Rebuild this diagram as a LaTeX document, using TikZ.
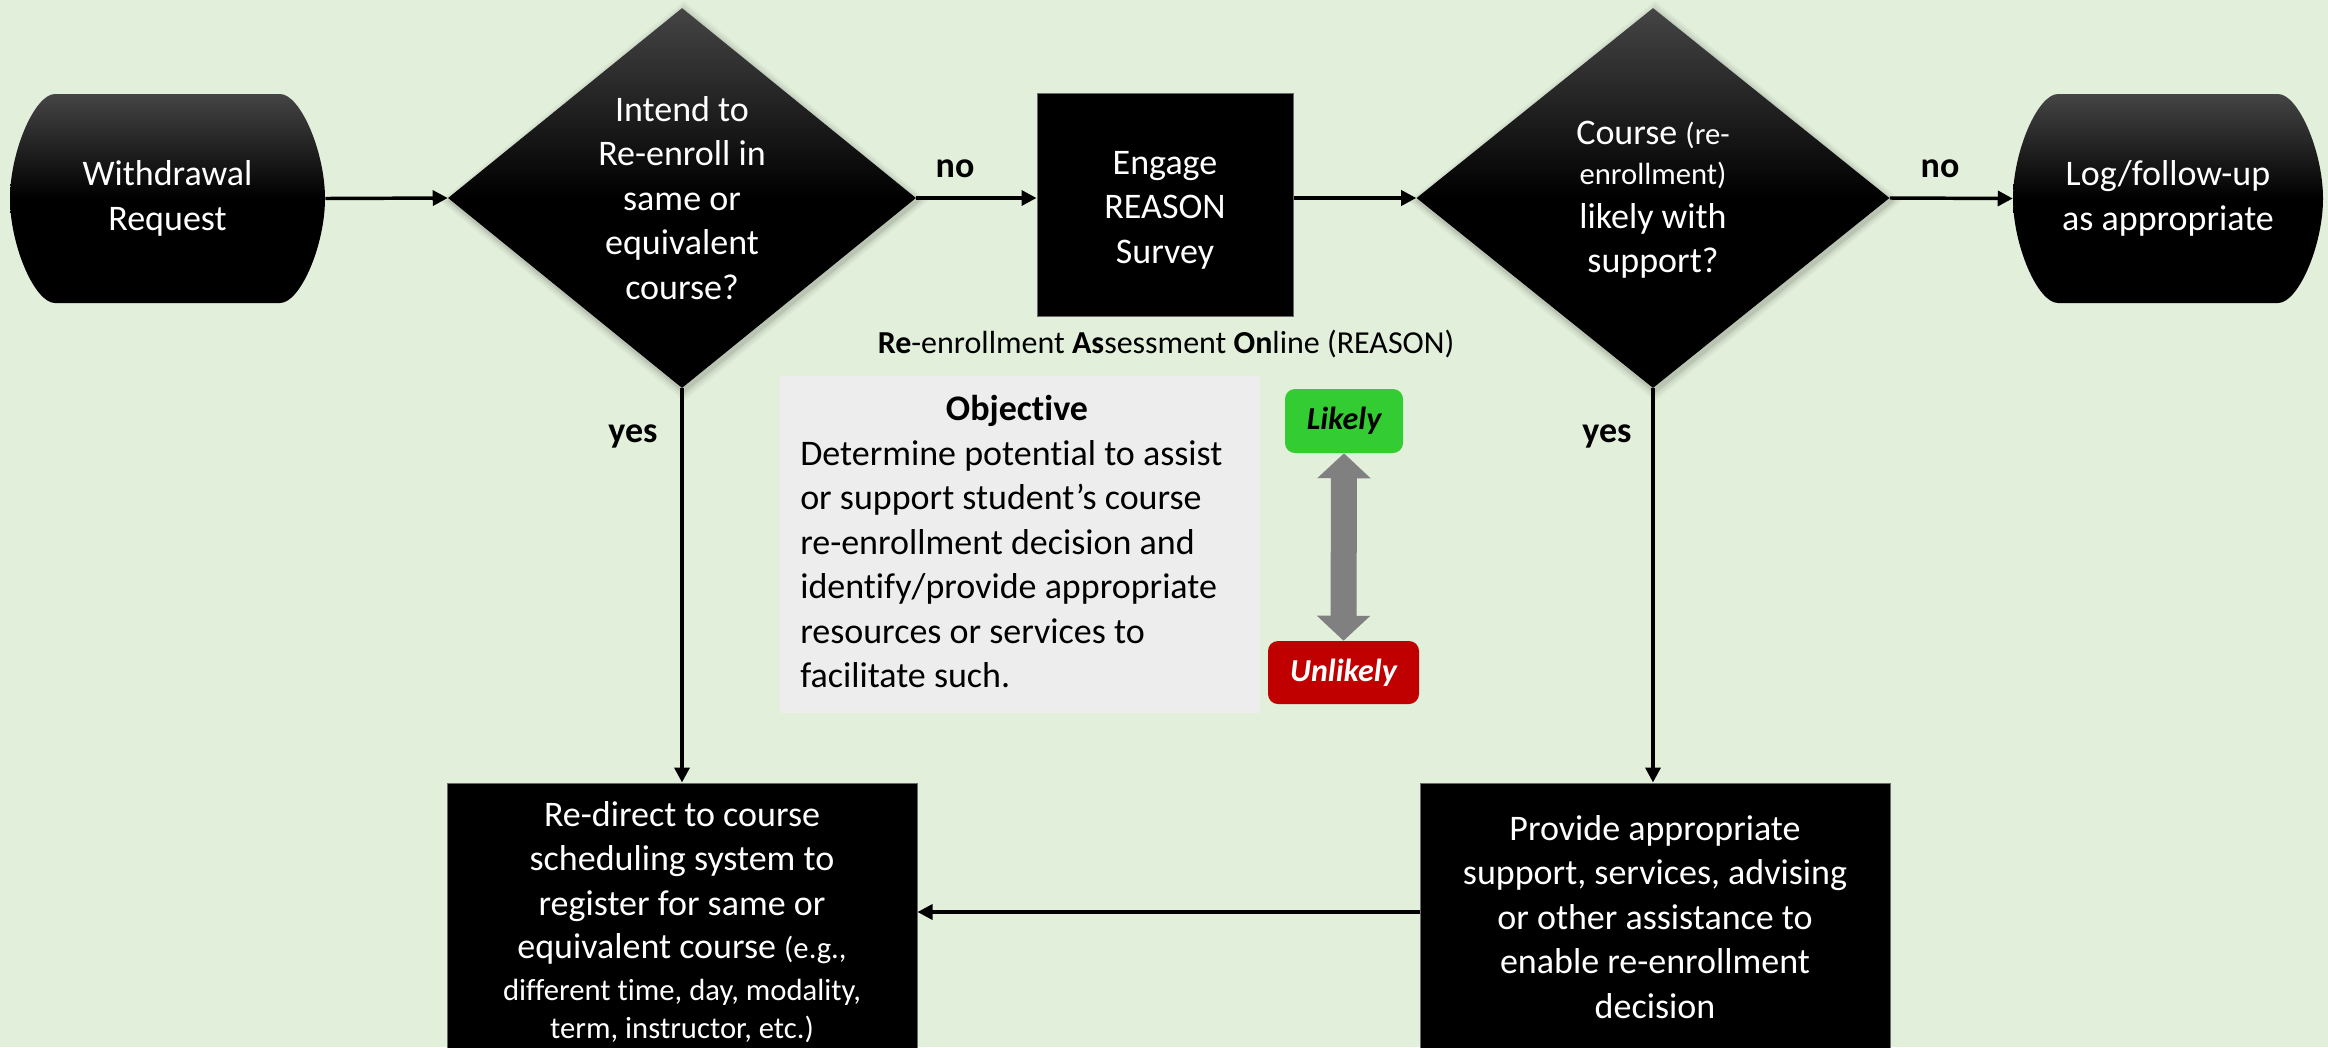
\documentclass[tikz,border=0pt]{standalone}
\usepackage{fontspec}
\setmainfont{Carlito}[Ligatures=NoCommon]
\usetikzlibrary{shapes.geometric,arrows.meta,calc}

\definecolor{bg}{HTML}{E2EFDA}
\definecolor{topgray}{HTML}{454545}
\definecolor{boxedge}{HTML}{6A6A6A}
\definecolor{objgray}{HTML}{EDEDED}
\definecolor{likegreen}{HTML}{33CC33}
\definecolor{unlikered}{HTML}{C00000}
\definecolor{midgray}{HTML}{808080}

\newcommand\mainsize{\fontsize{27}{33.4}\selectfont}
\newcommand\subsize{\fontsize{23}{28}\selectfont}
\newcommand\capsize{\fontsize{24}{29}\selectfont}

% terminator outline between left x #1 and right x #2 (top 94, bottom 303)
\newcommand\termoutline[2]{%
  \shade[darkshade] ({#1+45},94) -- ({#2-45},94)
    .. controls ({#2-24.75},94) and (#2,151.5) .. (#2,198.5)
    .. controls (#2,245.5) and ({#2-24.75},303) .. ({#2-45},303)
    -- ({#1+45},303)
    .. controls ({#1+24.75},303) and (#1,245.5) .. (#1,198.5)
    .. controls (#1,151.5) and ({#1+24.75},94) .. ({#1+45},94) -- cycle;}

\tikzset{
  flow/.style={line width=2.6pt, -{Triangle[length=11.25pt,width=11.25pt]}},
  darkshade/.style={top color=topgray, bottom color=black, middle color=black},
  termtext/.style={rectangle, inner sep=0pt, text=white, align=center, font=\mainsize, minimum height=156.75pt},
  decision/.style={diamond, inner sep=0pt, darkshade, minimum height=285pt},
  qtext/.style={text=white, align=center, font=\mainsize, inner sep=0pt},
  blackbox/.style={rectangle, fill=black, draw=boxedge, line width=0.75pt, inner sep=0pt},
  boxtext/.style={text=white, align=center, font=\mainsize, inner sep=0pt},
  answer/.style={font=\mainsize\bfseries, inner sep=0pt, anchor=base},
  tag/.style={rectangle, rounded corners=7.5pt, inner sep=0pt, font=\capsize\bfseries\itshape},
}

\begin{document}
\begin{tikzpicture}[x=0.75pt,y=-0.75pt]
  % page
  \fill[bg] (0,0) rectangle (2328,1047);
  \useasboundingbox (0,0) rectangle (2328,1047);
  \clip (0,0) rectangle (2328,1047);

  % terminators
  \termoutline{10}{325}
  \termoutline{2013}{2323}
  \node[termtext, minimum width=236.25pt] (wr) at (167.5,198.5) {Withdrawal\\Request};
  \node[termtext, minimum width=232.5pt] (log) at (2168,198.5) {Log/follow-up\\as appropriate};

  % soft shadows behind the decisions
  \foreach \g/\o in {10/0.03,7/0.04,4/0.05,2/0.06} {
    \fill[black,opacity=\o] (684,{8-\g+3}) -- ({916+\g+2},201) -- (684,{388+\g+3}) -- ({448-\g+2},201) -- cycle;
    \fill[black,opacity=\o] (1655,{8-\g+3}) -- ({1890+\g+2},201) -- (1655,{388+\g+3}) -- ({1416-\g+2},201) -- cycle;
  }

  % decisions
  \node[decision, minimum width=351pt] (d1) at (682,198) {};
  \node[qtext] (q1) at (682,198) {Intend to\\Re-enroll in\\same or\\equivalent\\course?};
  \node[decision, minimum width=354.75pt] (d2) at (1653,198) {};
  \node[qtext] (q2) at (1653,200) {Course {\subsize(re-}\\[-3.4pt]{\subsize enrollment)}\\[-1.1pt]likely with\\support?};

  % survey step and its caption
  \node[blackbox, minimum width=192pt, minimum height=167.25pt] (eng) at (1165,204.5) {};
  \node[boxtext] (engt) at (1165,210) {Engage\\REASON\\Survey};
  \node[font=\capsize, anchor=base, inner sep=0pt] (cap) at (1166,353)
    {\textbf{Re}-enrollment \textbf{As}sessment \textbf{On}line (REASON)};

  % objective panel
  \node[rectangle, fill=objgray, minimum width=360pt, minimum height=252.75pt, inner sep=0pt] (obj) at (1020,544.5) {};
  \node[font=\mainsize\bfseries, anchor=base, inner sep=0pt] (objt) at (1017,420) {Objective};
  \node[font=\mainsize, align=left, anchor=north west, inner sep=0pt] (objb) at (800,440)
    {Determine potential to assist\\or support student’s course\\re-enrollment decision and\\identify/provide appropriate\\resources or services to\\facilitate such.};

  % likelihood scale
  \node[tag, fill=likegreen, minimum width=88.5pt, minimum height=48pt] (lk) at (1344,421) {Likely};
  \node[tag, fill=unlikered, text=white, minimum width=113.25pt, minimum height=47.25pt] (ul) at (1343.5,672.5) {Unlikely};
  \draw[midgray, line width=19.5pt, {Triangle[length=18.75pt,width=39pt]}-{Triangle[length=18.75pt,width=39pt]}] (lk.south) -- (ul.north);

  % outcome steps
  \node[blackbox, minimum width=352.5pt, minimum height=208.5pt] (rd) at (682,922) {};
  \node[boxtext] (rdt) at (682,922)
    {Re-direct to course\\scheduling system to\\register for same or\\[-1.15pt]equivalent course {\subsize(e.g.,}\\[-1.9pt]{\subsize different time, day, modality,}\\[-5pt]{\subsize term, instructor, etc.)}};
  \node[blackbox, minimum width=352.5pt, minimum height=208.5pt] (prov) at (1655,922) {};
  \node[boxtext] (provt) at (1655,917)
    {Provide appropriate\\support, services, advising\\or other assistance to\\enable re-enrollment\\decision};

  % branch labels
  \node[answer] (no1) at (955,177) {no};
  \node[answer] (no2) at (1940,177) {no};
  \node[answer] (yes1) at (633,442) {yes};
  \node[answer] (yes2) at (1607,442) {yes};

  % connectors
  \draw[flow] (wr.east) -- (d1.west);
  \draw[flow] (d1.east) -- (eng.west |- d1.east);
  \draw[flow] (eng.east |- d2.west) -- (d2.west);
  \draw[flow] (d2.east) -- (log.west);
  \draw[flow] (d1.south) -- (rd.north);
  \draw[flow] (d2.south) -- (d2.south |- prov.north);
  \draw[flow] ([yshift=7.5pt]prov.west) -- ([yshift=7.5pt]rd.east);
\end{tikzpicture}
\end{document}
